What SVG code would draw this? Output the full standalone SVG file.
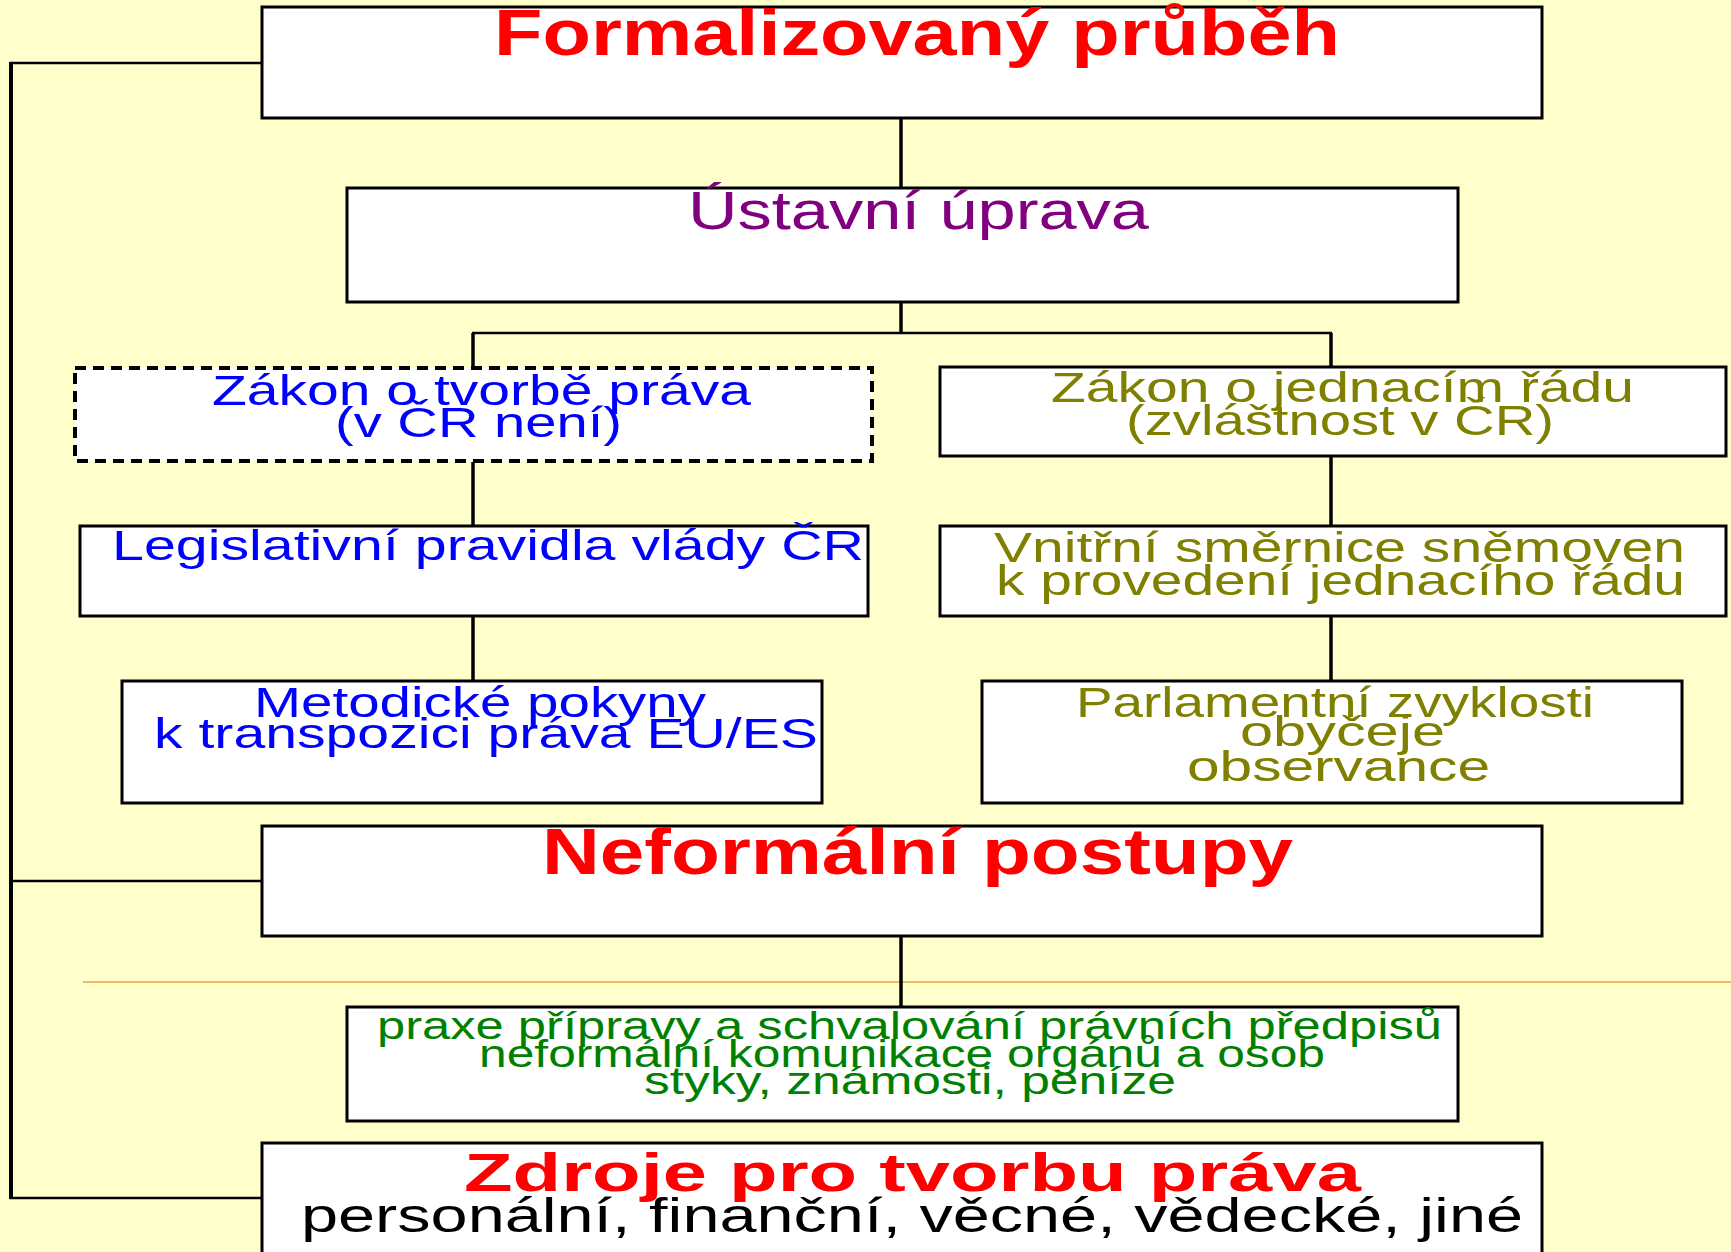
<svg xmlns="http://www.w3.org/2000/svg" width="1731" height="1252" viewBox="0 0 1731 1252">
<style>
.box{fill:#ffffff;stroke:#000000;stroke-width:3}
.dash{fill:#ffffff;stroke:#000000;stroke-width:4;stroke-dasharray:11 7}
.conn{stroke:#000000;stroke-width:3.5;fill:none}
.bus{stroke:#000000;stroke-width:2.5;fill:none}
.t{font-family:"Liberation Sans",Arial,sans-serif}
.b{font-weight:bold}
.red{fill:#ff0000}
.pur{fill:#800080}
.blu{fill:#0000ff}
.olv{fill:#808000}
.grn{fill:#008000}
.blk{fill:#000000}
</style>
<rect x="0" y="0" width="1731" height="1252" fill="#ffffcc"/>
<line x1="83" y1="982" x2="1731" y2="982" stroke="#f0a040" stroke-width="1.5"/>
<g id="connectors">
<line class="conn" x1="901" y1="118" x2="901" y2="188"/>
<line class="conn" x1="901" y1="301" x2="901" y2="333"/>
<line class="bus" x1="472" y1="333" x2="1332" y2="333"/>
<line class="conn" x1="473" y1="333" x2="473" y2="368"/>
<line class="conn" x1="1331" y1="333" x2="1331" y2="367"/>
<line class="conn" x1="473" y1="462" x2="473" y2="526"/>
<line class="conn" x1="1331" y1="456" x2="1331" y2="526"/>
<line class="conn" x1="473" y1="616" x2="473" y2="681"/>
<line class="conn" x1="1331" y1="616" x2="1331" y2="681"/>
<line class="conn" x1="901" y1="936" x2="901" y2="1007"/>
<line x1="11" y1="62" x2="11" y2="1199" stroke="#000" stroke-width="4"/>
<line class="bus" x1="10" y1="63" x2="262" y2="63"/>
<line class="bus" x1="10" y1="881" x2="262" y2="881"/>
<line class="bus" x1="10" y1="1198" x2="262" y2="1198"/>
</g>
<g id="n-formalizovany">
<rect class="box" x="262" y="7" width="1280" height="111"/>
<text class="t b red" x="494" y="55" font-size="64" textLength="846" lengthAdjust="spacingAndGlyphs">Formalizovaný průběh</text>
</g>
<g id="n-ustavni">
<rect class="box" x="347" y="188" width="1111" height="114"/>
<text class="t pur" x="688" y="229" font-size="54" textLength="461" lengthAdjust="spacingAndGlyphs">Ústavní úprava</text>
</g>
<g id="n-zakon-tvorbe">
<rect class="dash" x="75" y="368" width="797" height="93"/>
<text class="t blu" x="212" y="405" font-size="42" textLength="539" lengthAdjust="spacingAndGlyphs">Zákon o tvorbě práva</text>
<text class="t blu" x="335" y="437" font-size="42" textLength="287" lengthAdjust="spacingAndGlyphs">(v ČR není)</text>
</g>
<g id="n-zakon-jednaci">
<rect class="box" x="940" y="367" width="786" height="89"/>
<text class="t olv" x="1051" y="402" font-size="42" textLength="583" lengthAdjust="spacingAndGlyphs">Zákon o jednacím řádu</text>
<text class="t olv" x="1126" y="435" font-size="42" textLength="428" lengthAdjust="spacingAndGlyphs">(zvláštnost v ČR)</text>
</g>
<g id="n-legislativni">
<rect class="box" x="80" y="526" width="788" height="90"/>
<text class="t blu" x="112" y="560" font-size="42" textLength="752" lengthAdjust="spacingAndGlyphs">Legislativní pravidla vlády ČR</text>
</g>
<g id="n-vnitrni">
<rect class="box" x="940" y="526" width="786" height="90"/>
<text class="t olv" x="994" y="562" font-size="42" textLength="691" lengthAdjust="spacingAndGlyphs">Vnitřní směrnice sněmoven</text>
<text class="t olv" x="996" y="595" font-size="42" textLength="689" lengthAdjust="spacingAndGlyphs">k provedení jednacího řádu</text>
</g>
<g id="n-metodicke">
<rect class="box" x="122" y="681" width="700" height="122"/>
<text class="t blu" x="254" y="717" font-size="43" textLength="452" lengthAdjust="spacingAndGlyphs">Metodické pokyny</text>
<text class="t blu" x="154" y="748" font-size="43" textLength="664" lengthAdjust="spacingAndGlyphs">k transpozici práva EU/ES</text>
</g>
<g id="n-parlamentni">
<rect class="box" x="982" y="681" width="700" height="122"/>
<text class="t olv" x="1076" y="717" font-size="43" textLength="518" lengthAdjust="spacingAndGlyphs">Parlamentní zvyklosti</text>
<text class="t olv" x="1240" y="746" font-size="43" textLength="205" lengthAdjust="spacingAndGlyphs">obyčeje</text>
<text class="t olv" x="1187" y="781" font-size="43" textLength="303" lengthAdjust="spacingAndGlyphs">observance</text>
</g>
<g id="n-neformalni">
<rect class="box" x="262" y="826" width="1280" height="110"/>
<text class="t b red" x="542" y="874" font-size="64" textLength="751" lengthAdjust="spacingAndGlyphs">Neformální postupy</text>
</g>
<g id="n-praxe">
<rect class="box" x="347" y="1007" width="1111" height="114"/>
<text class="t grn" x="377" y="1039" font-size="38" textLength="1065" lengthAdjust="spacingAndGlyphs">praxe přípravy a schvalování právních předpisů</text>
<text class="t grn" x="479" y="1067" font-size="38" textLength="846" lengthAdjust="spacingAndGlyphs">neformální komunikace orgánů a osob</text>
<text class="t grn" x="644" y="1094" font-size="38" textLength="532" lengthAdjust="spacingAndGlyphs">styky, známosti, peníze</text>
</g>
<g id="n-zdroje">
<rect class="box" x="262" y="1143" width="1280" height="130"/>
<text class="t b red" x="464" y="1191" font-size="54" textLength="897" lengthAdjust="spacingAndGlyphs">Zdroje pro tvorbu práva</text>
<text class="t blk" x="301" y="1232" font-size="48" textLength="1222" lengthAdjust="spacingAndGlyphs">personální, finanční, věcné, vědecké, jiné</text>
</g>
</svg>
